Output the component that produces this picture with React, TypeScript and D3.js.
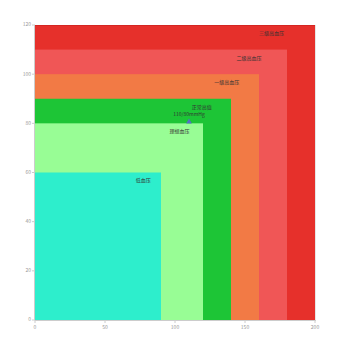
import React from "react";
import * as d3 from "d3";

const categories = ["三级高血压", "二级高血压", "一级高血压", "正常高值", "理想血压", "低血压"];
const systolicMax = [200, 180, 160, 140, 120, 90];
const diastolicMax = [120, 110, 100, 90, 80, 60];
const colors = ["#E6302B", "#F05656", "#F27A45", "#1DC536", "#98FD95", "#2DEECC"];
const pointValue = { x: 110, y: 80, label: "110/80mmHg" };
const xTicks = [0, 50, 100, 150, 200];
const yTicks = [0, 20, 40, 60, 80, 100, 120];

const W = 350, H = 350;
const M = { left: 35, right: 35, top: 25, bottom: 30 };

export default function App() {
  const x = d3.scaleLinear().domain([0, 200]).range([M.left, W - M.right]);
  const y = d3.scaleLinear().domain([0, 120]).range([H - M.bottom, M.top]);
  const font = "'Noto Sans CJK SC', 'Noto Sans', sans-serif";
  return (
    <svg width={W} height={H} style={{ position: "absolute", left: 0, top: 0 }} fontFamily={font}>
      {categories.map((c, i) => (
        <rect key={c} x={x(0)} y={y(diastolicMax[i])} width={x(systolicMax[i]) - x(0)} height={y(0) - y(diastolicMax[i])} fill={colors[i]} />
      ))}
      <line x1={x(0)} x2={x(200)} y1={y(120) + 0.5} y2={y(120) + 0.5} stroke="#d42622" strokeWidth={1} />
      {categories.map((c, i) => (
        <text key={c} x={x(systolicMax[i] * 0.8)} y={y(diastolicMax[i] - 3.5)} fontSize={5} fill="#333" dominantBaseline="middle">{c}</text>
      ))}
      <path d={d3.symbol(d3.symbolTriangle, 14)() as string} transform={`translate(${x(pointValue.x)},${y(pointValue.y) - 1.5})`} fill="#5470c6" />
      <text x={x(pointValue.x)} y={y(pointValue.y) - 7} fontSize={5} fill="#333" textAnchor="middle">{pointValue.label}</text>
      <line x1={x(0)} x2={x(200) + 1} y1={y(0) + 0.5} y2={y(0) + 0.5} stroke="#ccc" />
      <line x1={x(0) - 0.5} x2={x(0) - 0.5} y1={y(0)} y2={y(120)} stroke="#ccc" />
      <line x1={x(200) + 0.5} x2={x(200) + 0.5} y1={y(0)} y2={y(120)} stroke="#e6e6e6" />
      {yTicks.map((t) => (
        <g key={t}>
          <line x1={x(0) - 3} x2={x(0)} y1={y(t)} y2={y(t)} stroke="#ccc" />
          <text x={x(0) - 4} y={y(t)} fontSize={5} fill="#999" textAnchor="end" dominantBaseline="middle">{t}</text>
        </g>
      ))}
      {xTicks.map((t) => (
        <g key={t}>
          <line x1={x(t)} x2={x(t)} y1={y(0)} y2={y(0) + 3} stroke="#ccc" />
          <text x={x(t)} y={y(0) + 8} fontSize={5} fill="#999" textAnchor="middle" dominantBaseline="middle">{t}</text>
        </g>
      ))}
    </svg>
  );
}
